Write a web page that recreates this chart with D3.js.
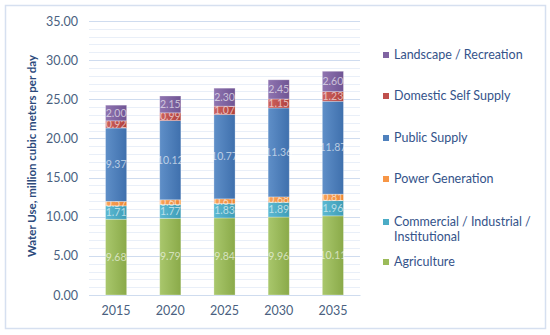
<!DOCTYPE html>
<html>
<head>
<meta charset="utf-8">
<script src="https://cdn.jsdelivr.net/npm/d3@7"></script>
<style>
  body { margin: 0; background: #fff; }
  svg { display: block; font-family: Lato, "Open Sans", sans-serif; }
</style>
</head>
<body>
<svg id="chart" width="550" height="335"></svg>
<script>
// datos de la figura
var years = ["2015", "2020", "2025", "2030", "2035"];
var agriculture = [9.68, 9.79, 9.84, 9.96, 10.11];
var commercial = [1.71, 1.77, 1.83, 1.89, 1.96];
var power = [0.57, 0.60, 0.61, 0.68, 0.81];
var publicSupply = [9.37, 10.12, 10.77, 11.36, 11.87];
var domestic = [0.92, 0.99, 1.07, 1.15, 1.23];
var landscape = [2.00, 2.15, 2.30, 2.45, 2.60];
var yTicks = [0, 5, 10, 15, 20, 25, 30, 35];

var series = [
  { name: "Agriculture", values: agriculture, color: "#9bbb59", light: "#a9c76c", dark: "#8aaa49" },
  { name: "Commercial / Industrial / Institutional", values: commercial, color: "#4bacc6", light: "#5cb9d2", dark: "#3e9db7" },
  { name: "Power Generation", values: power, color: "#f79646", light: "#f9a35c", dark: "#ec8835" },
  { name: "Public Supply", values: publicSupply, color: "#4f81bd", light: "#5f8fc8", dark: "#3f70ad" },
  { name: "Domestic Self Supply", values: domestic, color: "#c0504d", light: "#cd625f", dark: "#b0403d" },
  { name: "Landscape / Recreation", values: landscape, color: "#8064a2", light: "#8f74b0", dark: "#705594" }
];

var svg = d3.select("#chart");

// marco exterior
svg.append("rect")
  .attr("x", 5.5).attr("y", 5.5)
  .attr("width", 540).attr("height", 323)
  .attr("fill", "#fff")
  .attr("stroke", "#d6e0f0")
  .attr("stroke-width", 1.5);

var x = d3.scaleBand().domain(years).range([89, 360]).paddingInner(0.61).paddingOuter(0.305);
var y = d3.scaleLinear().domain([0, 35]).range([295, 21]);

// gradientes
var defs = svg.append("defs");
series.forEach(function(s, i) {
  var g = defs.append("linearGradient").attr("id", "grad" + i)
    .attr("x1", 0).attr("y1", 0).attr("x2", 1).attr("y2", 0);
  g.append("stop").attr("offset", "0%").attr("stop-color", s.light);
  g.append("stop").attr("offset", "100%").attr("stop-color", s.dark);
});

// lineas de cuadricula menores y mayores
var minor = d3.range(0, 35.01, 1);
svg.append("g").selectAll("line")
  .data(minor.filter(function(d) { return d % 5 !== 0; }))
  .enter().append("line")
  .attr("x1", 89).attr("x2", 360)
  .attr("y1", function(d) { return Math.round(y(d)) + 0.5; })
  .attr("y2", function(d) { return Math.round(y(d)) + 0.5; })
  .attr("stroke", "#e9eff8");

svg.append("g").selectAll("line")
  .data(yTicks)
  .enter().append("line")
  .attr("x1", 89).attr("x2", 360)
  .attr("y1", function(d) { return Math.round(y(d)) + 0.5; })
  .attr("y2", function(d) { return Math.round(y(d)) + 0.5; })
  .attr("stroke", "#cfdcef");

// eje y
var yAxis = svg.append("g")
  .attr("transform", "translate(79,0)")
  .call(d3.axisLeft(y).tickValues(yTicks).tickSize(0).tickFormat(d3.format(".2f")));
yAxis.select(".domain").remove();
yAxis.selectAll("text")
  .attr("font-size", "12.5px")
  .attr("font-family", "Lato, sans-serif")
  .attr("fill", "#4a5f80")
  .attr("dx", "2");

// eje x
var xAxis = svg.append("g")
  .attr("transform", "translate(0,295)")
  .call(d3.axisBottom(x).tickSize(0));
xAxis.select(".domain").attr("stroke", "#cfdcef");
xAxis.selectAll("text")
  .attr("font-size", "12.5px")
  .attr("font-family", "Lato, sans-serif")
  .attr("fill", "#4a5f80")
  .attr("dy", "1.35em");

// titulo del eje y
svg.append("text")
  .attr("transform", "translate(36,156) rotate(-90)")
  .attr("text-anchor", "middle")
  .attr("font-size", "11.5px")
  .attr("font-weight", "bold")
  .attr("fill", "#2c4a7c")
  .text("Water Use, million cubic meters per day");

// apilar datos
var rows = years.map(function(yr, i) {
  var r = { year: yr };
  series.forEach(function(s) { r[s.name] = s.values[i]; });
  return r;
});
var stack = d3.stack().keys(series.map(function(s) { return s.name; }))(rows);

var layers = svg.append("g").selectAll("g")
  .data(stack).enter().append("g");

layers.selectAll("rect")
  .data(function(d) { return d; })
  .enter().append("rect")
  .attr("x", function(d) { return x(d.data.year); })
  .attr("y", function(d) { return y(d[1]); })
  .attr("width", x.bandwidth())
  .attr("height", function(d) { return y(d[0]) - y(d[1]); })
  .attr("fill", function() { return "url(#grad" + d3.select(this.parentNode).datum().index + ")"; })
  .attr("stroke", "rgba(255,255,255,0.35)")
  .attr("stroke-width", 0.8);

// etiquetas de datos
layers.selectAll("text")
  .data(function(d) { return d; })
  .enter().append("text")
  .attr("x", function(d) { return x(d.data.year) + x.bandwidth() / 2; })
  .attr("y", function(d) { return (y(d[0]) + y(d[1])) / 2; })
  .attr("dy", "0.35em")
  .attr("text-anchor", "middle")
  .attr("font-size", "10.5px")
  .attr("fill", "rgba(255,255,255,0.62)")
  .text(function(d) { return d3.format(".2f")(d[1] - d[0]); });

// leyenda
var legendItems = [
  { s: series[5], y: 55, lines: ["Landscape / Recreation"] },
  { s: series[4], y: 96, lines: ["Domestic Self Supply"] },
  { s: series[3], y: 138, lines: ["Public Supply"] },
  { s: series[2], y: 179, lines: ["Power Generation"] },
  { s: series[1], y: 222, lines: ["Commercial / Industrial /", "Institutional"] },
  { s: series[0], y: 262, lines: ["Agriculture"] }
];
var legend = svg.append("g").selectAll("g")
  .data(legendItems).enter().append("g");
legend.append("rect")
  .attr("x", 383).attr("y", function(d) { return d.y - 3; })
  .attr("width", 6).attr("height", 6)
  .attr("fill", function(d) { return d.s.color; });
legend.append("text")
  .attr("x", 394).attr("y", function(d) { return d.y; })
  .attr("dy", "0.35em")
  .attr("font-size", "12.5px")
  .attr("fill", "#34538a")
  .selectAll("tspan")
  .data(function(d) { return d.lines; })
  .enter().append("tspan")
  .attr("x", 394)
  .attr("dy", function(d, i) { return i === 0 ? "0.35em" : "15px"; })
  .text(function(d) { return d; });
</script>
</body>
</html>
